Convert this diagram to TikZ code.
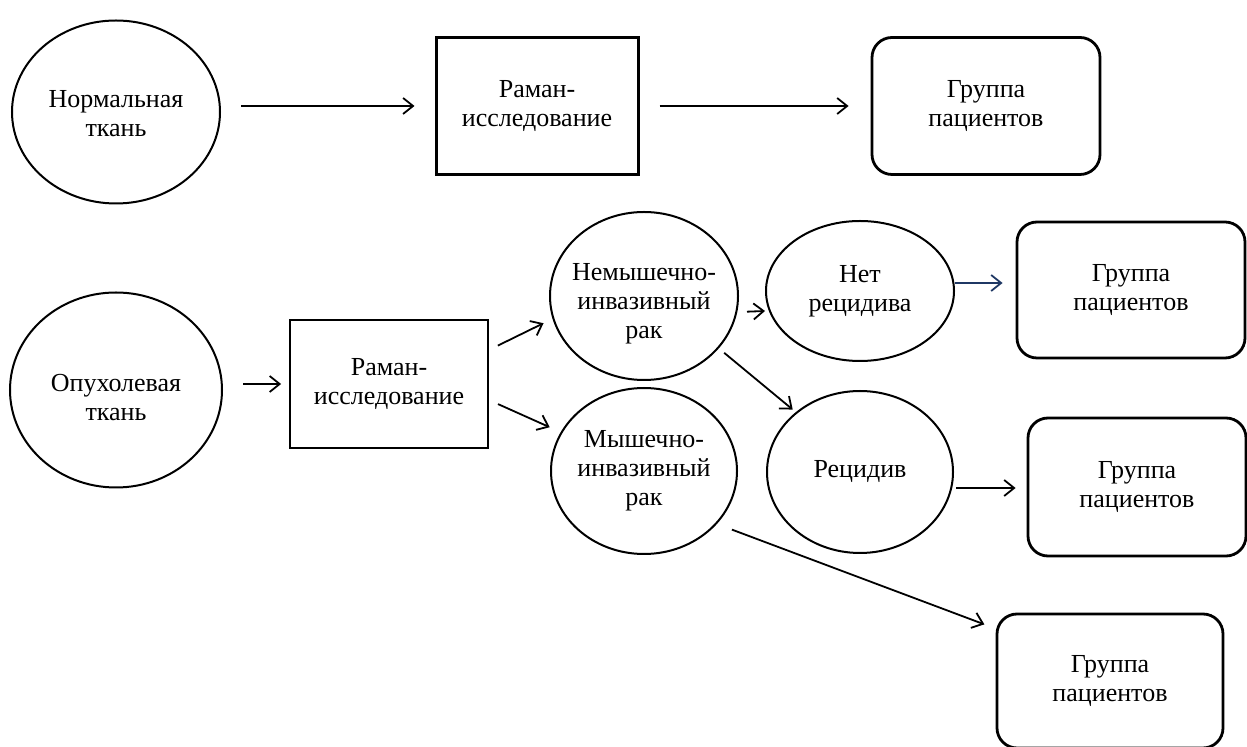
\documentclass[tikz,border=0pt]{standalone}
\usepackage{fontspec}
\setmainfont{Liberation Serif}
\usetikzlibrary{shapes.geometric,arrows.meta}
\definecolor{navyarrow}{RGB}{31,56,100}

\begin{document}
\begin{tikzpicture}[x=0.5pt,y=-0.5pt,
	every node/.style={font=\fontsize{13}{14.5}\selectfont, align=center, inner sep=0pt},
	oval/.style={draw, ellipse, line width=1pt},
	box/.style={draw, rectangle},
	grp/.style={draw, rectangle, rounded corners=10pt, line width=1.4pt},
	arr/.style={-{Straight Barb[length=5pt,width=8pt]}, line width=0.9pt}]
	
	\useasboundingbox (0,0) rectangle (1247,747);
	
	% normal tissue
	\node[oval, minimum width=104pt, minimum height=91.5pt, label={[yshift=-1pt]center:{Нормальная\\ткань}}] (norm) at (116,112) {};
	\node[box, line width=1.5pt, minimum width=101pt, minimum height=68.5pt] (ram1) at (537,106) {Раман-\\исследование};
	\node[grp, minimum width=114pt, minimum height=68.5pt] (grp1) at (986,106) {Группа\\пациентов};
	
	% tumour tissue
	\node[oval, minimum width=106pt, minimum height=97.5pt, label={[yshift=-4pt]center:{Опухолевая\\ткань}}] (tum) at (116,390) {};
	\node[box, line width=0.9pt, minimum width=99pt, minimum height=64pt] (ram2) at (389,384) {Раман-\\исследование};
	\node[oval, minimum width=94pt, minimum height=84pt, label={[yshift=-4pt]center:{Немышечно-\\инвазивный\\рак}}] (nmi) at (644,296) {};
	\node[oval, minimum width=93pt, minimum height=83pt, label={center:{Мышечно-\\инвазивный\\рак}}] (mi) at (644,471) {};
	\node[oval, minimum width=94pt, minimum height=70pt, label={center:{Нет\\рецидива}}] (norec) at (860,291) {};
	\node[oval, minimum width=93pt, minimum height=81pt, label={center:{Рецидив}}] (rec) at (860,472) {};
	\node[grp, minimum width=114pt, minimum height=68pt] (grp2) at (1131,290) {Группа\\пациентов};
	\node[grp, minimum width=109pt, minimum height=69pt] (grp3) at (1137,487) {Группа\\пациентов};
	\node[grp, minimum width=113pt, minimum height=67pt] (grp4) at (1110,681) {Группа\\пациентов};
	
	\draw[arr, shorten <=10pt, shorten >=10pt] (norm.east |- ram1.west) -- (ram1.west);
	\draw[arr, shorten <=10pt, shorten >=11pt] (ram1.east) -- (grp1.west);
	
	\draw[arr, shorten <=10pt, shorten >=4pt] (tum.east |- ram2.west) -- (ram2.west);
	\draw[arr, shorten <=5pt, shorten >=5pt] ([yshift=17pt]ram2.east) -- (nmi.194);
	\draw[arr, shorten <=5pt, shorten >=6pt] ([yshift=-8pt]ram2.east) -- (mi.155);
	\draw[arr, shorten <=4pt] ([yshift=-8pt]nmi.east) -- ([yshift=-10pt]norec.west);
	\draw[arr, shorten <=3.5pt, shorten >=2pt] (nmi.-35) -- (rec.137);
	\draw[arr, navyarrow, shorten >=6.5pt] ([yshift=4pt]norec.east) -- ([yshift=3.5pt]grp2.west);
	\draw[arr, shorten <=1pt, shorten >=5.5pt] ([yshift=-8pt]rec.east) -- ([yshift=-0.5pt]grp3.west);
	\draw[arr, shorten <=8pt, shorten >=6pt] (mi.-36) -- ([yshift=-8pt]grp4.north west);
	
\end{tikzpicture}
\end{document}
